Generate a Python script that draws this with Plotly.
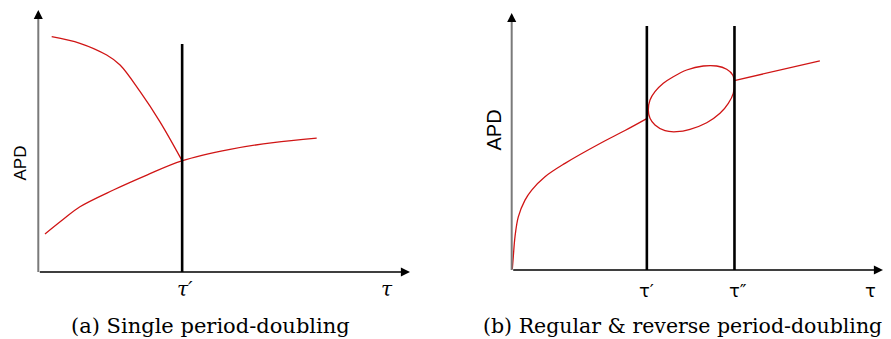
import plotly.graph_objects as go

# ---------------- data (schematic units, axes run 0..100) ----------------
# Panel (a): single period-doubling
a_upper_tau = [3.6, 11.2, 18.4, 22.0, 27.4, 32.7, 38.6]
a_upper_apd = [89.8, 87.3, 82.8, 79.0, 68.8, 57.4, 42.7]
a_lower_tau = [1.8, 6.73, 11.2, 20.2, 29.2, 38.6, 51.6, 63.2, 74.9]
a_lower_apd = [14.5, 20.1, 24.9, 31.3, 37.0, 42.4, 46.8, 49.4, 51.1]
a_tau_prime = 38.7
a_vline_top = 87.0

# Panel (b): regular & reverse period-doubling
b_curve_tau = [0.16, 0.43, 0.89, 1.78, 3.58, 5.39, 8.97, 14.35, 23.78, 30.51, 36.5]
b_curve_apd = [0.27, 5.2, 13.0, 20.7, 27.2, 31.1, 36.3, 41.5, 49.22, 54.28, 59.0]
b_loop_tau = [36.79, 37.25, 38.59, 40.83, 43.52, 47.13, 51.60, 55.21, 57.90, 59.52, 59.95,
              59.68, 58.34, 56.10, 52.52, 48.02, 44.44, 41.29, 38.59, 37.25, 36.79]
b_loop_apd = [62.26, 66.15, 69.38, 72.65, 75.21, 77.82, 79.38, 79.38, 78.09, 75.88, 72.65,
              68.75, 64.86, 60.97, 57.31, 54.75, 53.81, 54.20, 56.42, 59.03, 62.26]
b_after_tau = [59.95, 83.0]
b_after_apd = [73.7, 81.4]
b_tau_prime = 36.4
b_tau_dprime = 60.0
b_vline_top = 94.9

a_tick_labels = ["τ′", "τ"]
b_tick_labels = ["τ′", "τ″", "τ"]
captions = ["(a) Single period-doubling", "(b) Regular &amp; reverse period-doubling"]

# ---------------- layout geometry ----------------
W, H = 891, 339          # window size
OFF = 8                  # default page-body margin of the html page
FW, FH = W - OFF, H - OFF
LO, HI = -5, 100.5


def px_x(px):
    return (px - OFF) / FW


def px_y(py):
    return (FH - (py - OFF)) / FH


def clamp(v):
    return min(1.0, max(0.0, v))


def dom_x(px0, s):
    return [clamp(px_x(px0 + LO * s)), clamp(px_x(px0 + HI * s))]


def dom_y(py0, s):
    return [clamp(px_y(py0 - LO * s)), clamp(px_y(py0 - HI * s))]


RED = "#d01515"
fig = go.Figure()


def line(x, y, xa, ya, color=RED, width=1.3, shape="spline"):
    fig.add_trace(go.Scatter(x=x, y=y, mode="lines", xaxis=xa, yaxis=ya,
                             line=dict(color=color, width=width, shape=shape, smoothing=1.0),
                             hoverinfo="skip", showlegend=False))


# panel (a)
line(a_upper_tau, a_upper_apd, "x", "y")
line(a_lower_tau, a_lower_apd, "x", "y")
line([a_tau_prime, a_tau_prime], [0, a_vline_top], "x", "y", color="black", width=2.6, shape="linear")

# panel (b)
line(b_curve_tau, b_curve_apd, "x2", "y2")
line(b_loop_tau, b_loop_apd, "x2", "y2")
line(b_after_tau, b_after_apd, "x2", "y2", shape="linear")
for t in (b_tau_prime, b_tau_dprime):
    line([t, t], [0, b_vline_top], "x2", "y2", color="black", width=2.6, shape="linear")

ax_common = dict(range=[LO, HI], showgrid=False, zeroline=False, showline=False,
                 showticklabels=False, ticks="", fixedrange=True)

annotations = []
shapes = []
for xa, ya in (("x", "y"), ("x2", "y2")):
    annotations.append(dict(x=100, y=0, ax=0, ay=0, xref=xa, yref=ya, axref=xa, ayref=ya,
                            text="", showarrow=True, arrowhead=2, arrowsize=1.3,
                            arrowwidth=1.4, arrowcolor="black"))
    shapes.append(dict(type="line", xref=xa, yref=ya, x0=0, x1=0, y0=0, y1=97,
                       line=dict(color="#7a7a7a", width=2)))
    annotations.append(dict(x=0, y=100, ax=0, ay=96, xref=xa, yref=ya, axref=xa, ayref=ya,
                            text="", showarrow=True, arrowhead=2, arrowsize=1.3,
                            arrowwidth=1.4, arrowcolor="black"))

serif_it = dict(family="DejaVu Serif", size=20, color="black")
sans = dict(family="DejaVu Sans", size=18, color="black")

for txt, xv, xs in ((a_tick_labels[0], a_tau_prime, 3), (a_tick_labels[1], 93.8, 0)):
    annotations.append(dict(x=xv, y=px_y(289), xref="x", yref="paper", text="<i>" + txt + "</i>",
                            showarrow=False, font=serif_it, xanchor="center", yanchor="middle", xshift=xs))
for txt, xv, xs in ((b_tick_labels[0], b_tau_prime, 0), (b_tick_labels[1], b_tau_dprime, 4),
                    (b_tick_labels[2], 96.5, 0)):
    annotations.append(dict(x=xv, y=px_y(290), xref="x2", yref="paper", text=txt,
                            showarrow=False, font=sans, xanchor="center", yanchor="middle", xshift=xs))

annotations.append(dict(x=px_x(19.5), y=px_y(163), xref="paper", yref="paper", text="APD",
                        textangle=-90, showarrow=False, xanchor="center", yanchor="middle",
                        font=dict(family="Liberation Sans", size=17, color="black")))
annotations.append(dict(x=px_x(493.5), y=px_y(130), xref="paper", yref="paper", text="APD",
                        textangle=-90, showarrow=False, xanchor="center", yanchor="middle",
                        font=dict(family="Liberation Sans", size=20, color="black")))

annotations.append(dict(x=px_x(210), y=px_y(326), xref="paper", yref="paper", text=captions[0],
                        showarrow=False, xanchor="center", yanchor="middle",
                        font=dict(family="DejaVu Serif", size=21, color="black")))
annotations.append(dict(x=px_x(682), y=px_y(326), xref="paper", yref="paper", text=captions[1],
                        showarrow=False, xanchor="center", yanchor="middle",
                        font=dict(family="DejaVu Serif", size=20.5, color="black")))

fig.update_layout(
    width=FW, height=FH,
    margin=dict(l=0, r=0, t=0, b=0),
    paper_bgcolor="white", plot_bgcolor="white",
    xaxis=dict(domain=dom_x(38.3, 3.717), anchor="y", **ax_common),
    yaxis=dict(domain=dom_y(272, 2.62), anchor="x", **ax_common),
    xaxis2=dict(domain=dom_x(511.7, 3.713), anchor="y2", **ax_common),
    yaxis2=dict(domain=dom_y(270, 2.57), anchor="x2", **ax_common),
    annotations=annotations, shapes=shapes, showlegend=False,
)

fig.write_html("out.html")
